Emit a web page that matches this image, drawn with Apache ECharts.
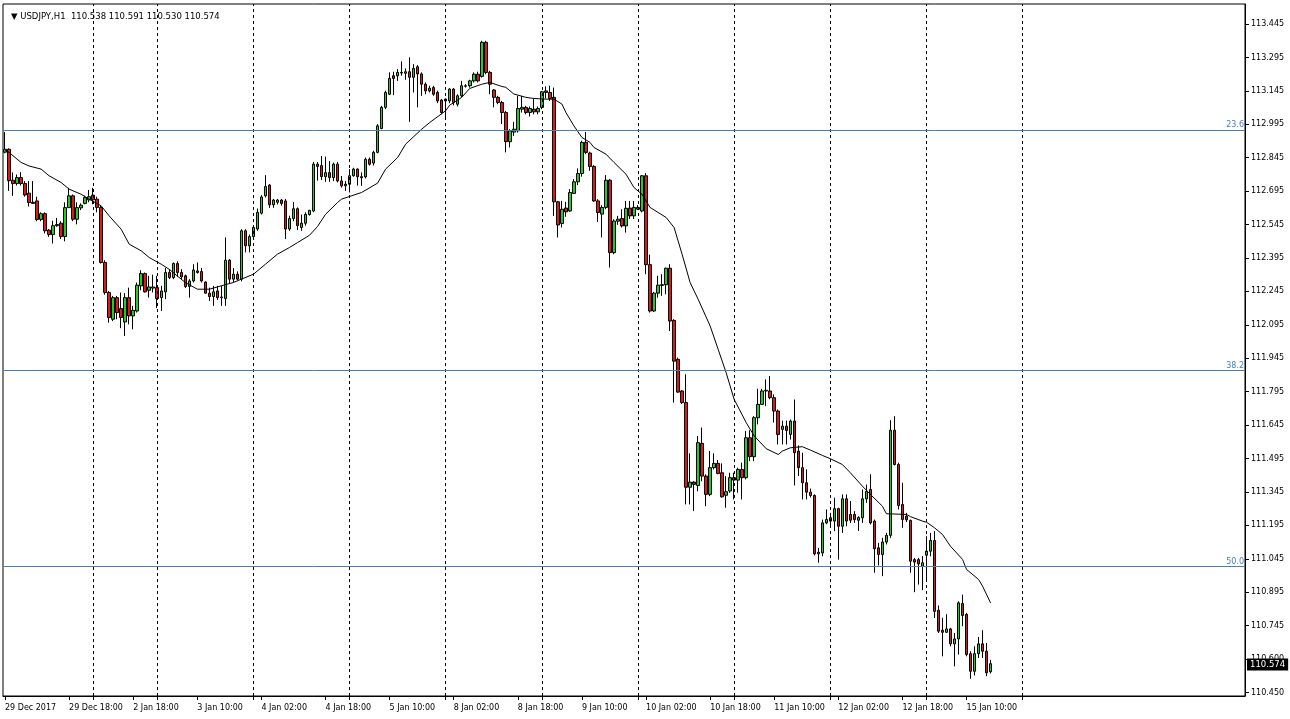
<!DOCTYPE html>
<html><head><meta charset="utf-8">
<script src="https://cdn.jsdelivr.net/npm/echarts@6/dist/echarts.min.js"></script>
<style>html,body{margin:0;padding:0;background:#fff}#c{width:1290px;height:719px}</style>
</head><body><div id="c"></div>
<script>
const opens = [
112.870,112.883,112.744,112.729,112.756,112.729,112.686,112.645,112.651,112.568,
112.594,112.520,112.500,112.540,112.551,112.491,112.621,112.674,112.569,112.620,
112.640,112.656,112.677,112.659,112.622,112.375,112.240,112.120,112.217,112.168,
112.108,112.217,112.135,112.157,112.270,112.325,112.250,112.260,112.262,112.217,
112.243,112.330,112.307,112.370,112.330,112.315,112.267,112.292,112.337,112.334,
112.287,112.237,112.222,112.247,112.217,112.213,112.385,112.300,112.322,112.300,
112.517,112.450,112.491,112.525,112.596,112.674,112.722,112.634,112.645,112.655,
112.651,112.525,112.572,112.616,112.532,112.551,112.590,112.606,112.816,112.810,
112.760,112.778,112.756,112.816,112.741,112.726,112.726,112.764,112.794,112.760,
112.759,112.838,112.821,112.869,112.976,113.071,113.130,113.213,113.213,113.228,
113.224,113.231,113.206,113.253,113.221,113.175,113.145,113.160,113.138,113.104,
113.108,113.100,113.153,113.085,113.123,113.166,113.168,113.190,113.220,113.210,
113.363,113.228,113.149,113.116,113.093,113.048,112.917,112.960,112.966,113.063,
113.071,113.048,113.063,113.051,113.071,113.145,113.138,113.116,112.647,112.550,
112.619,112.606,112.685,112.737,112.774,112.914,112.866,112.806,112.651,112.592,
112.622,112.744,112.419,112.560,112.572,112.539,112.619,112.584,112.614,112.606,
112.764,112.365,112.157,112.237,112.272,112.275,112.349,112.115,111.940,111.798,
111.746,111.366,111.389,111.374,111.563,111.416,111.334,111.454,111.473,111.431,
111.330,111.349,111.409,111.398,111.446,111.409,111.588,111.503,111.678,111.738,
111.798,111.798,111.768,111.708,111.626,111.640,111.603,111.663,111.528,111.454,
111.386,111.344,111.329,111.067,111.071,111.206,111.229,111.214,111.270,111.191,
111.314,111.244,111.244,111.218,111.229,111.314,111.356,111.214,111.094,111.064,
111.120,111.150,111.622,111.468,111.289,111.236,111.217,111.041,111.041,111.012,
111.061,111.079,111.127,110.814,110.724,110.715,110.730,110.663,110.685,110.844,
110.795,110.619,110.540,110.619,110.663,110.630,110.538];
const highs = [
112.960,112.887,112.779,112.770,112.780,112.740,112.740,112.740,112.670,112.600,
112.600,112.525,112.562,112.575,112.560,112.645,112.710,112.680,112.645,112.640,
112.675,112.700,112.710,112.670,112.630,112.385,112.247,112.225,112.225,112.240,
112.237,112.262,112.180,112.285,112.340,112.330,112.315,112.320,112.315,112.270,
112.350,112.345,112.375,112.380,112.345,112.320,112.300,112.367,112.375,112.350,
112.290,112.262,112.270,112.270,112.270,112.487,112.390,112.350,112.335,112.524,
112.524,112.500,112.540,112.617,112.677,112.767,112.727,112.660,112.660,112.660,
112.660,112.585,112.646,112.622,112.590,112.600,112.610,112.826,112.826,112.853,
112.850,112.830,112.823,112.826,112.763,112.741,112.794,112.800,112.797,112.779,
112.846,112.846,112.876,112.996,113.078,113.146,113.228,113.231,113.243,113.277,
113.246,113.296,113.265,113.261,113.228,113.183,113.168,113.168,113.146,113.108,
113.111,113.157,113.157,113.130,113.190,113.175,113.195,113.228,113.231,113.370,
113.370,113.235,113.153,113.123,113.100,113.055,112.973,113.006,113.123,113.123,
113.078,113.075,113.110,113.075,113.145,113.165,113.168,113.160,112.651,112.651,
112.647,112.704,112.749,112.797,112.921,112.961,112.872,112.812,112.659,112.632,
112.767,112.749,112.569,112.584,112.614,112.651,112.651,112.651,112.632,112.767,
112.776,112.410,112.243,112.315,112.322,112.352,112.367,112.120,111.948,111.802,
111.873,111.518,111.393,111.596,111.634,111.424,111.529,111.518,111.488,111.473,
111.416,111.431,111.431,111.454,111.476,111.618,111.622,111.685,111.808,111.808,
111.850,111.865,111.783,111.715,111.665,111.665,111.670,111.760,111.554,111.521,
111.446,111.360,111.334,111.094,111.221,111.266,111.251,111.319,111.274,111.334,
111.334,111.304,111.259,111.236,111.356,111.378,111.424,111.221,111.116,111.139,
111.161,111.667,111.685,111.476,111.386,111.251,111.221,111.048,111.049,111.057,
111.146,111.161,111.169,110.835,110.780,110.796,110.735,110.712,110.854,110.884,
110.802,110.630,110.652,110.694,110.724,110.667,110.591];
const lows = [
112.865,112.696,112.674,112.720,112.720,112.670,112.626,112.640,112.560,112.560,
112.505,112.490,112.460,112.535,112.480,112.470,112.620,112.560,112.546,112.610,
112.636,112.645,112.636,112.600,112.370,112.230,112.105,112.112,112.120,112.080,
112.045,112.097,112.075,112.150,112.250,112.240,112.217,112.240,112.170,112.157,
112.210,112.300,112.300,112.310,112.300,112.260,112.217,112.285,112.325,112.285,
112.236,112.202,112.180,112.207,112.180,112.180,112.280,112.285,112.296,112.290,
112.420,112.420,112.480,112.517,112.590,112.667,112.620,112.620,112.635,112.630,
112.480,112.517,112.560,112.520,112.517,112.540,112.585,112.600,112.742,112.745,
112.737,112.737,112.740,112.734,112.711,112.696,112.689,112.760,112.720,112.719,
112.752,112.810,112.810,112.865,112.973,113.063,113.126,113.126,113.190,113.213,
113.195,113.006,113.138,113.071,113.123,113.130,113.138,113.123,113.090,113.040,
113.020,113.090,113.080,113.075,113.115,113.160,113.160,113.183,113.183,113.205,
113.220,113.130,113.071,113.085,112.996,112.869,112.891,112.943,112.958,113.048,
113.040,113.030,113.040,113.040,113.063,113.111,113.100,112.584,112.487,112.532,
112.580,112.602,112.685,112.722,112.760,112.861,112.786,112.647,112.557,112.487,
112.614,112.352,112.412,112.544,112.532,112.509,112.570,112.570,112.610,112.600,
112.322,112.150,112.153,112.217,112.225,112.232,112.067,111.746,111.790,111.740,
111.289,111.289,111.259,111.348,111.393,111.281,111.326,111.446,111.424,111.319,
111.274,111.341,111.311,111.341,111.311,111.401,111.483,111.483,111.648,111.738,
111.730,111.761,111.656,111.558,111.558,111.558,111.580,111.374,111.416,111.311,
111.311,111.320,111.060,111.027,111.056,111.200,111.194,111.169,111.041,111.161,
111.191,111.206,111.206,111.170,111.206,111.296,111.199,110.982,111.015,110.967,
111.109,111.139,111.464,111.266,111.184,111.210,110.982,110.895,110.929,110.904,
110.944,111.056,110.779,110.712,110.607,110.712,110.652,110.562,110.615,110.742,
110.607,110.506,110.521,110.600,110.600,110.518,110.530];
const closes = [
112.883,112.742,112.729,112.756,112.729,112.678,112.644,112.640,112.568,112.594,
112.517,112.500,112.540,112.545,112.491,112.621,112.674,112.569,112.621,112.632,
112.666,112.670,112.656,112.622,112.375,112.240,112.128,112.217,112.150,112.128,
112.217,112.135,112.160,112.273,112.325,112.243,112.265,112.265,112.213,112.247,
112.330,112.307,112.370,112.330,112.310,112.267,112.292,112.341,112.330,112.292,
112.237,112.222,112.243,112.217,112.220,112.385,112.300,112.322,112.300,112.517,
112.450,112.491,112.532,112.600,112.669,112.716,112.634,112.655,112.655,112.640,
112.525,112.572,112.616,112.540,112.551,112.591,112.609,112.816,112.806,112.760,
112.778,112.756,112.816,112.741,112.719,112.719,112.764,112.794,112.760,112.755,
112.838,112.816,112.869,112.988,113.071,113.138,113.201,113.201,113.228,113.225,
113.231,113.206,113.246,113.221,113.175,113.145,113.157,113.130,113.100,113.048,
113.100,113.153,113.093,113.123,113.168,113.168,113.190,113.220,113.190,113.363,
113.228,113.175,113.116,113.093,113.048,112.917,112.966,112.973,113.066,113.071,
113.048,113.066,113.051,113.066,113.141,113.138,113.111,112.647,112.543,112.614,
112.602,112.689,112.737,112.774,112.914,112.869,112.806,112.651,112.599,112.622,
112.744,112.419,112.561,112.569,112.539,112.618,112.584,112.622,112.622,112.764,
112.365,112.157,112.237,112.273,112.275,112.349,112.112,111.932,111.793,111.746,
111.366,111.389,111.379,111.566,111.416,111.334,111.454,111.473,111.428,111.323,
111.346,111.409,111.398,111.446,111.409,111.588,111.503,111.678,111.738,111.798,
111.801,111.768,111.708,111.603,111.640,111.621,111.663,111.521,111.454,111.386,
111.344,111.329,111.067,111.074,111.206,111.221,111.214,111.270,111.191,111.314,
111.214,111.218,111.221,111.230,111.314,111.348,111.206,111.090,111.064,111.120,
111.150,111.622,111.468,111.284,111.221,111.220,111.034,111.030,111.022,111.027,
111.079,111.127,110.809,110.720,110.715,110.730,110.663,110.685,110.847,110.790,
110.615,110.540,110.619,110.663,110.630,110.533,110.574];

// moving average: [bar index, price]
const maPoints = [
[0,112.880],[1,112.869],[4,112.824],[6,112.808],[9,112.794],[11,112.764],[14,112.734],[16,112.704],
[19,112.681],[21,112.659],[24,112.629],[26,112.584],[29,112.524],[31,112.457],[34,112.427],[36,112.397],
[39,112.367],[41,112.344],[45,112.285],[48,112.255],[51,112.255],[54,112.270],[57,112.285],[59,112.300],
[62,112.322],[65,112.367],[68,112.412],[71,112.442],[73,112.464],[76,112.497],[78,112.536],[80,112.591],
[83,112.644],[84,112.659],[89,112.689],[93,112.731],[95,112.794],[98,112.846],[100,112.906],[104,112.973],
[106,113.003],[110,113.056],[111,113.081],[114,113.116],[116,113.156],[119,113.175],[121,113.183],[124,113.165],
[125,113.161],[127,113.131],[130,113.116],[132,113.111],[135,113.108],[137,113.108],[139,113.086],[140,113.048],
[142,112.988],[144,112.936],[146,112.914],[147,112.891],[150,112.861],[152,112.824],[155,112.771],[157,112.711],
[159,112.681],[161,112.622],[165,112.577],[167,112.532],[169,112.412],[171,112.285],[173,112.210],[176,112.090],
[178,111.985],[180,111.880],[182,111.760],[185,111.656],[187,111.596],[190,111.539],[193,111.513],[194,111.528],
[196,111.543],[199,111.548],[201,111.533],[204,111.509],[206,111.494],[209,111.468],[211,111.431],[214,111.371],
[216,111.334],[219,111.281],[220,111.247],[225,111.244],[226,111.234],[229,111.214],[230,111.209],[232,111.184],
[234,111.154],[236,111.101],[239,111.042],[240,110.997],[243,110.952],[244,110.922],[246,110.847]];

const xLabelIdx = [0,16,32,48,64,80,96,112,128,144,160,176,192,208,224,240];
const xLabels = ['29 Dec 2017','29 Dec 18:00','2 Jan 18:00','3 Jan 10:00','4 Jan 02:00','4 Jan 18:00','5 Jan 10:00','8 Jan 02:00','8 Jan 18:00','9 Jan 10:00','10 Jan 02:00','10 Jan 18:00','11 Jan 10:00','12 Jan 02:00','12 Jan 18:00','15 Jan 10:00'];
const daySeparators = [22,38,62,86,110,134,158,182,206,230,254];
const yTickVals = [110.445,110.595,110.745,110.895,111.045,111.195,111.345,111.495,111.645,111.795,111.945,112.095,112.245,112.395,112.545,112.695,112.845,112.995,113.145,113.295,113.445];
const yTickLabels = ['110.450','110.600','110.745','110.895','111.045','111.195','111.345','111.495','111.645','111.795','111.945','112.095','112.245','112.395','112.545','112.695','112.845','112.995','113.145','113.295','113.445'];
const fibLevels = [112.973, 111.891, 111.010];
const fibLabels = ['23.6','38.2','50.0'];
const lastPrice = 110.574;
const headerText = '\u25BC USDJPY,H1  110.538 110.591 110.530 110.574';

const SLOTS = 310;
const cats = Array.from({length: SLOTS}, (_, i) => String(i));
const candles = opens.map((o, i) => [o, closes[i], lows[i], highs[i]]);
const labelMap = new Map(xLabelIdx.map((k, j) => [k, xLabels[j]]));
const tickSet = new Set(xLabelIdx.concat(daySeparators));
const FONT = 'DejaVu Sans';
const FIB = '#4a80b8';

const markData = [];
daySeparators.forEach(d => markData.push({xAxis: d, lineStyle: {color: '#000', type: [3, 3], width: 1}, label: {show: false}}));
fibLevels.forEach((v, j) => markData.push({yAxis: v, lineStyle: {color: FIB, type: 'solid', width: 1},
  label: {show: true, position: 'insideEndTop', formatter: fibLabels[j], color: FIB, fontFamily: FONT, fontSize: 8, distance: 1}}));

const chart = echarts.init(document.getElementById('c'), null, {renderer: 'canvas'});
chart.setOption({
  animation: false,
  backgroundColor: '#fff',
  title: {text: headerText, left: 6, top: 7, textStyle: {fontFamily: FONT, fontSize: 8.5, fontWeight: 'normal', color: '#000'}},
  grid: {left: 3, top: 4, width: 1242, height: 692, show: true, borderColor: '#000', borderWidth: 1, backgroundColor: '#fff'},
  xAxis: {
    type: 'category', data: cats, boundaryGap: true,
    axisLine: {show: true, lineStyle: {color: '#000', width: 1}},
    axisTick: {show: true, alignWithLabel: true, interval: (i) => tickSet.has(i), length: 4, lineStyle: {color: '#000'}},
    axisLabel: {interval: (i) => labelMap.has(i), formatter: (v, i) => labelMap.get(i) || '', align: 'left', margin: 8,
      fontFamily: FONT, fontSize: 8, color: '#000'},
    splitLine: {show: false}
  },
  yAxis: {
    type: 'value', position: 'right', min: 110.429, max: 113.535, scale: true,
    axisLine: {show: true, lineStyle: {color: '#000'}},
    axisTick: {show: true, customValues: yTickVals, length: 4, lineStyle: {color: '#000'}},
    axisLabel: {customValues: yTickVals, margin: 6, fontFamily: FONT, fontSize: 8, color: '#000',
      formatter: (v) => {
        const k = yTickVals.findIndex(t => Math.abs(t - v) < 1e-6);
        return k >= 0 ? yTickLabels[k] : '';
      }},
    splitLine: {show: false}
  },
  series: [
    {
      type: 'candlestick', data: candles, barWidth: 3,
      itemStyle: {color: '#22cc22', color0: '#e01818', borderColor: '#000', borderColor0: '#000', borderWidth: 1},
      markLine: {silent: true, symbol: ['none', 'none'], animation: false, data: markData}
    },
    {
      type: 'line', data: maPoints, showSymbol: false, symbol: 'none', connectNulls: true,
      lineStyle: {color: '#000', width: 1}, z: 3,
      markLine: {silent: true, symbol: ['none', 'none'], animation: false, z: 10,
        data: [{yAxis: lastPrice, lineStyle: {color: 'rgba(0,0,0,0)', width: 1}}],
        label: {show: true, position: 'end', distance: 2, formatter: lastPrice.toFixed(3), color: '#fff', backgroundColor: '#000',
          padding: [2, 3, 1, 3], fontFamily: FONT, fontSize: 8.5, opacity: 1}}
    }
  ]
});
</script></body></html>
